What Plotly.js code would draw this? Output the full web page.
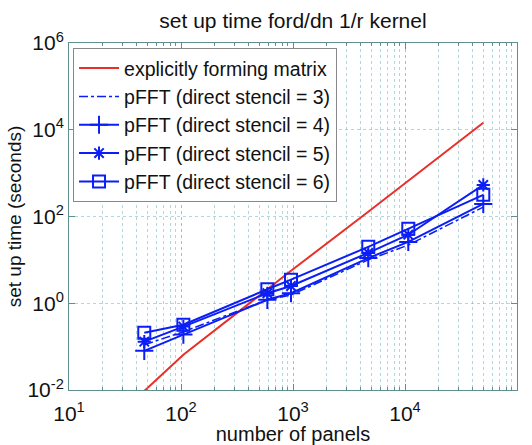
<!DOCTYPE html>
<html><head><meta charset="utf-8">
<script src="https://cdn.plot.ly/plotly-3.0.1.min.js"></script>
<style>html,body{margin:0;padding:0;background:#fff}</style>
</head><body>
<div id="chart" style="width:532px;height:445px"></div>
<script>
const panels = [47, 105, 590, 960, 4700, 10700, 50000];
const explicitMatrix = [0.0095, 0.065, 2.1, 5.6, 129, 660, 14500];
const stencil3 = [0.11, 0.22, 1.2, 1.55, 10, 22, 165];
const stencil4 = [0.08, 0.19, 1.2, 1.7, 11, 26, 195];
const stencil5 = [0.13, 0.29, 1.7, 2.5, 14.5, 38, 535];
const stencil6 = [0.21, 0.32, 2.1, 3.5, 20, 52, 316];
const names = ['explicitly forming matrix','pFFT (direct stencil = 3)','pFFT (direct stencil = 4)','pFFT (direct stencil = 5)','pFFT (direct stencil = 6)'];
const xTickVals = [10, 100, 1000, 10000, 100000];
const xTickText = ['10<sup>1</sup>','10<sup>2</sup>','10<sup>3</sup>','10<sup>4</sup>','10<sup>5</sup>'];
const yTickVals = [0.01, 1, 100, 10000, 1000000];
const yTickText = ['10<sup>-2</sup>','10<sup>0</sup>','10<sup>2</sup>','10<sup>4</sup>','10<sup>6</sup>'];

const blue = '#0a1ef5';
const red = '#e8302a';
const traces = [
  {x: panels, y: explicitMatrix, name: names[0], mode: 'lines', line: {color: red, width: 2}},
  {x: panels, y: stencil3, name: names[1], mode: 'lines', line: {color: blue, width: 1.5, dash: 'dashdot'}},
  {x: panels, y: stencil4, name: names[2], mode: 'lines+markers', line: {color: blue, width: 2},
   marker: {symbol: 'cross-thin-open', size: 13, line: {color: blue, width: 2}}},
  {x: panels, y: stencil5, name: names[3], mode: 'lines+markers', line: {color: blue, width: 2},
   marker: {symbol: 'asterisk-open', size: 11, line: {color: blue, width: 2}}},
  {x: panels, y: stencil6, name: names[4], mode: 'lines+markers', line: {color: blue, width: 2},
   marker: {symbol: 'square-open', size: 12, color: blue, line: {color: blue, width: 2}}}
];
const frame = '#5f8f8f';
const grid = 'rgba(120,190,200,0.6)';
const layout = {
  width: 532, height: 445,
  margin: {l: 69, r: 15, t: 43, b: 55},
  paper_bgcolor: '#fff', plot_bgcolor: '#fff',
  font: {family: 'Liberation Sans, Arial, sans-serif', color: '#111'},
  title: {text: 'set up time ford/dn 1/r kernel', font: {size: 21, color: '#111'},
          xref: 'paper', x: 0.5, xanchor: 'center', y: 0.953, yanchor: 'middle'},
  xaxis: {type: 'log', range: [1, 5], tickmode: 'array', tickvals: xTickVals, ticktext: xTickText,
          tickfont: {size: 21}, ticks: 'inside', ticklen: 6, tickcolor: frame, ticklabelstandoff: 5,
          showline: true, linecolor: frame, linewidth: 1, mirror: 'ticks',
          showgrid: true, gridcolor: grid, griddash: 'dot', gridwidth: 1,
          minor: {ticks: 'inside', ticklen: 3, tickcolor: frame, showgrid: true, gridcolor: grid, griddash: 'dot', dtick: 'D1'},
          zeroline: false,
          title: {text: 'number of panels', font: {size: 20, color: '#111'}, standoff: 0}},
  yaxis: {type: 'log', range: [-2, 6], tickmode: 'array', tickvals: yTickVals, ticktext: yTickText,
          tickfont: {size: 21}, ticks: 'inside', ticklen: 6, tickcolor: frame,
          showline: true, linecolor: frame, linewidth: 1, mirror: 'ticks',
          showgrid: true, gridcolor: grid, griddash: 'dot', gridwidth: 1,
          zeroline: false,
          title: {text: 'set up time (seconds)', font: {size: 19, color: '#111'}, standoff: 0}},
  showlegend: true,
  legend: {x: 0.009, y: 0.986, xanchor: 'left', yanchor: 'top',
           bgcolor: '#fff', bordercolor: '#888', borderwidth: 1,
           font: {size: 19.5, color: '#111'}, tracegroupgap: 0, itemwidth: 40}
};
Plotly.newPlot('chart', traces, layout, {displayModeBar: false, staticPlot: true});
</script>
</body></html>
